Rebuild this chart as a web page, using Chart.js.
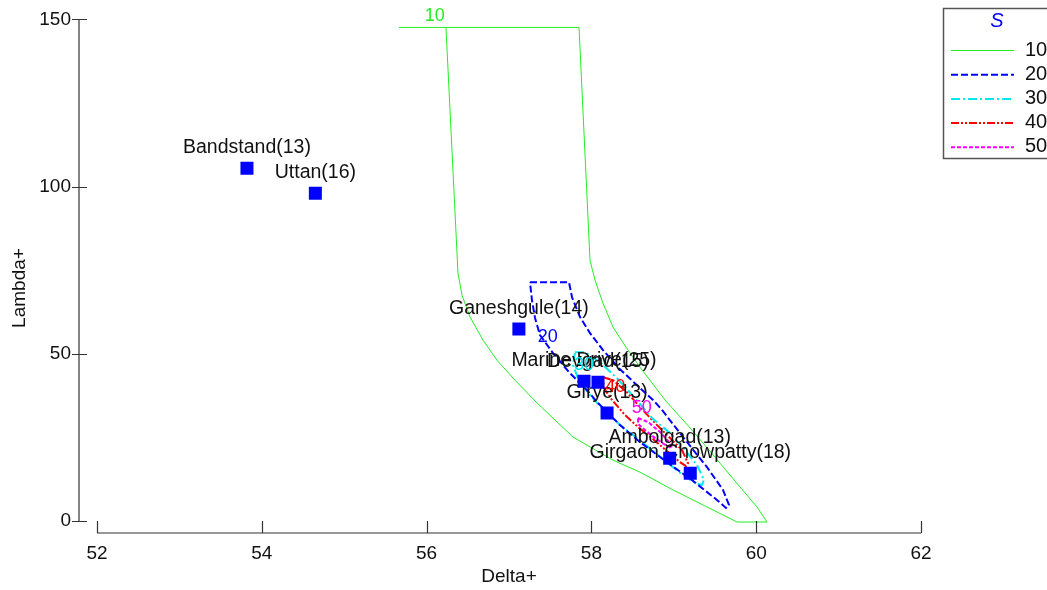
<!DOCTYPE html>
<html>
<head>
<meta charset="utf-8">
<script src="https://cdn.jsdelivr.net/npm/chart.js@4/dist/chart.umd.min.js"></script>
<style>
  html, body { margin: 0; background: #fff; }
</style>
</head>
<body>
<canvas id="chart" width="1047" height="590"></canvas>
<script>
'use strict';

// sites: Delta+ / Lambda+ with sample counts in the names
const siteNames = ['Bandstand(13)', 'Uttan(16)', 'Ganeshgule(14)', 'Marine Drive(25)',
    'Devgad(15)', 'Girye(13)', 'Ambolgad(13)', 'Girgaon Chowpatty(18)'];
const siteDelta = [53.82, 54.65, 57.12, 57.91, 58.08, 58.19, 58.95, 59.20];
const siteLambda = [105.5, 98.0, 57.4, 41.8, 41.5, 32.3, 18.8, 14.3];

const xTicks = [52, 54, 56, 58, 60, 62];
const yTicks = [0, 50, 100, 150];

// contour levels of S
const levels = [10, 20, 30, 40, 50];
const levelColors = ['#22ee22', '#0000ff', '#00e8f0', '#ff0000', '#ff00ff'];

// contour lines as [Delta+, Lambda+]
const contour10 = [
    [55.665, 147.6], [57.850, 147.6], [57.983, 78.0], [58.044, 72.0], [58.141, 65.1],
    [58.262, 58.0], [58.420, 52.0], [58.590, 46.0], [58.893, 36.2], [59.221, 27.2],
    [59.561, 17.3], [59.803, 10.2], [60.010, 4.2], [60.131, -0.3], [59.767, -0.3],
    [59.403, 4.2], [58.990, 9.3], [58.590, 14.6], [58.262, 18.2], [57.777, 25.1],
    [57.340, 35.3], [57.073, 42.1], [56.854, 48.1], [56.684, 54.1], [56.527, 61.0],
    [56.430, 67.5], [56.381, 74.1], [56.235, 147.6]
];
const contour20 = [
    [57.255, 71.4], [57.728, 71.4], [57.765, 66.9], [57.862, 61.0], [57.983, 56.2],
    [58.141, 51.1], [58.347, 45.4], [58.553, 40.6], [58.748, 36.2], [58.857, 33.2],
    [59.112, 25.1], [59.403, 16.1], [59.597, 9.3], [59.670, 4.8], [59.633, 3.9],
    [59.524, 6.3], [59.233, 12.0], [58.917, 17.6], [58.590, 23.6], [58.347, 28.7],
    [58.068, 35.6], [57.947, 39.1], [57.740, 44.2], [57.534, 50.2], [57.376, 55.6],
    [57.316, 60.7], [57.279, 66.0], [57.255, 71.4]
];
const contour30 = [
    [57.801, 50.5], [57.922, 50.5], [58.104, 47.5], [58.311, 42.7], [58.529, 36.8],
    [58.735, 30.8], [58.954, 26.3], [59.136, 21.2], [59.282, 16.7], [59.367, 12.3],
    [59.342, 10.8], [59.257, 11.4], [59.112, 13.7], [58.930, 17.3], [58.735, 21.2],
    [58.553, 24.8], [58.347, 28.7], [58.153, 33.2], [57.983, 37.6], [57.837, 42.7],
    [57.777, 46.6], [57.801, 50.5]
];
const contour40 = [
    [58.141, 43.0], [58.262, 42.1], [58.432, 38.5], [58.590, 34.1], [58.772, 29.3],
    [58.930, 25.4], [59.100, 21.2], [59.172, 17.3], [59.148, 16.4], [59.075, 17.6],
    [58.917, 20.9], [58.735, 24.8], [58.566, 28.1], [58.408, 31.7], [58.250, 36.2],
    [58.153, 39.7], [58.141, 43.0]
];
const contour50 = [
    [58.566, 30.8], [58.687, 29.6], [58.833, 26.6], [58.954, 23.3], [58.978, 21.8],
    [58.917, 22.4], [58.772, 24.8], [58.650, 27.2], [58.566, 29.0], [58.566, 30.8]
];
const contours = [contour10, contour20, contour30, contour40, contour50];

// where the level numbers sit on the plot
const levelLabelDelta = [56.10, 57.47, 57.91, 58.29, 58.61];
const levelLabelLambda = [150.9, 55.0, 46.6, 40.0, 33.8];

const FONT = "'Liberation Sans', Arial, sans-serif";
Chart.defaults.font.family = FONT;
Chart.defaults.color = '#111';

const dashes = [[], [7, 3], [9, 3, 2, 3], [8, 2, 2, 2, 2, 2], [4, 2]];
const widths = [1, 2, 2, 2, 2];

const contourSets = contours.map((pts, i) => ({
    type: 'scatter',
    label: String(levels[i]),
    data: pts.map(p => ({ x: p[0], y: p[1] })),
    showLine: true,
    borderColor: levelColors[i],
    borderWidth: widths[i],
    borderDash: dashes[i],
    pointRadius: 0,
    fill: false,
    tension: 0
}));

const siteSet = {
    type: 'scatter',
    label: 'sites',
    data: siteDelta.map((d, i) => ({ x: d, y: siteLambda[i] })),
    pointStyle: 'rect',
    pointRadius: 9.2,
    pointHoverRadius: 9.2,
    backgroundColor: '#0000ff',
    borderWidth: 0
};

const overlay = {
    id: 'overlay',
    beforeDatasetDraw(chart, args) {
        // site names go under the squares but over the contours
        if (args.meta.label !== 'sites') return;
        const ctx = chart.ctx;
        ctx.save();
        ctx.font = '19.5px ' + FONT;
        ctx.fillStyle = '#111';
        ctx.textAlign = 'center';
        ctx.textBaseline = 'alphabetic';
        args.meta.data.forEach((pt, i) => {
            ctx.fillText(siteNames[i], pt.x, pt.y - 15);
        });
        ctx.restore();
    },
    afterDatasetsDraw(chart) {
        const { ctx, scales: { x, y } } = chart;
        ctx.save();
        ctx.font = '18px ' + FONT;
        ctx.textAlign = 'center';
        ctx.textBaseline = 'middle';
        levels.forEach((lv, i) => {
            ctx.fillStyle = levelColors[i];
            ctx.fillText(String(lv), x.getPixelForValue(levelLabelDelta[i]), y.getPixelForValue(levelLabelLambda[i]));
        });
        ctx.restore();
    },
    afterDraw(chart) {
        const { ctx, chartArea, scales: { x, y } } = chart;
        const left = chartArea.left, bottom = chartArea.bottom;
        ctx.save();
        ctx.strokeStyle = '#333';
        ctx.lineWidth = 1.2;

        // y axis
        const yTop = y.getPixelForValue(yTicks[yTicks.length - 1]);
        const yBot = y.getPixelForValue(yTicks[0]);
        ctx.beginPath();
        ctx.moveTo(left, yTop);
        ctx.lineTo(left, yBot);
        yTicks.forEach(v => {
            const py = Math.round(y.getPixelForValue(v)) + 0.5;
            ctx.moveTo(left - 7, py);
            ctx.lineTo(left + 8, py);
        });
        // x axis
        const xL = x.getPixelForValue(xTicks[0]);
        const xR = x.getPixelForValue(xTicks[xTicks.length - 1]);
        ctx.moveTo(xL, bottom);
        ctx.lineTo(xR, bottom);
        xTicks.forEach(v => {
            const px = Math.round(x.getPixelForValue(v)) + 0.5;
            ctx.moveTo(px, bottom);
            ctx.lineTo(px, bottom - 12);
        });
        ctx.stroke();

        // axis titles
        ctx.fillStyle = '#111';
        ctx.font = '19px ' + FONT;
        ctx.textAlign = 'center';
        ctx.textBaseline = 'middle';
        ctx.fillText('Delta+', (xL + xR) / 2, 577);
        ctx.translate(20, 288);
        ctx.rotate(-Math.PI / 2);
        ctx.fillText('Lambda+', 0, 0);
        ctx.restore();

        // legend box
        ctx.save();
        ctx.strokeStyle = '#555';
        ctx.lineWidth = 1.5;
        ctx.strokeRect(943.5, 8.5, 120, 150);
        ctx.font = 'italic 20px ' + FONT;
        ctx.fillStyle = '#0000ff';
        ctx.textAlign = 'center';
        ctx.textBaseline = 'middle';
        ctx.fillText('S', 997, 21);
        ctx.font = '20px ' + FONT;
        ctx.textAlign = 'left';
        ctx.fillStyle = '#111';
        const lines = chart.data.datasets.filter(ds => ds.label !== 'sites');
        lines.forEach((ds, i) => {
            const ly = 50 + i * 24.2;
            ctx.save();
            ctx.strokeStyle = ds.borderColor;
            ctx.lineWidth = ds.borderWidth;
            ctx.setLineDash(ds.borderDash);
            ctx.beginPath();
            ctx.moveTo(951, ly + 0.5);
            ctx.lineTo(1014, ly + 0.5);
            ctx.stroke();
            ctx.restore();
            ctx.fillText(ds.label, 1025, ly);
        });
        ctx.restore();
    }
};

new Chart(document.getElementById('chart'), {
    type: 'scatter',
    data: { datasets: [siteSet, ...contourSets] },
    options: {
        responsive: false,
        animation: false,
        layout: { padding: { left: 0, top: 19, right: 126, bottom: 0 } },
        plugins: {
            legend: { display: false },
            tooltip: { enabled: false }
        },
        scales: {
            x: {
                type: 'linear',
                min: 51.7816,
                max: 62,
                grid: { display: false, drawTicks: false },
                border: { display: false },
                afterBuildTicks: s => { s.ticks = xTicks.map(v => ({ value: v })); },
                afterFit: s => { s.height = 57; },
                ticks: { font: { size: 19 }, color: '#111', padding: 9, maxRotation: 0 }
            },
            y: {
                type: 'linear',
                min: -3.586,
                max: 150,
                grid: { display: false, drawTicks: false },
                border: { display: false },
                afterBuildTicks: s => { s.ticks = yTicks.map(v => ({ value: v })); },
                afterFit: s => { s.width = 79; },
                ticks: { font: { size: 19 }, color: '#111', padding: 8 }
            }
        }
    },
    plugins: [overlay]
});
</script>
</body>
</html>
